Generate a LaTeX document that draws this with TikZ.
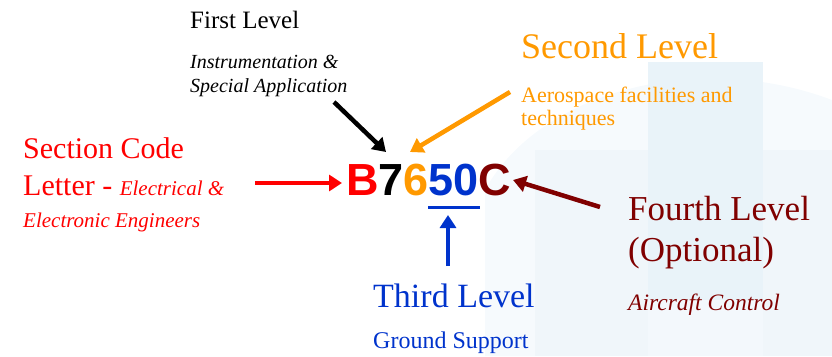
\documentclass[tikz,border=0pt]{standalone}
\usepackage{fontspec}
\newfontfamily\libser{Liberation Serif}
\newfontfamily\codefont{Liberation Sans}
\usetikzlibrary{arrows.meta}
\definecolor{cred}{HTML}{FF0000}
\definecolor{corange}{HTML}{FF9900}
\definecolor{cblue}{HTML}{0033CC}
\definecolor{cdark}{HTML}{800000}
\definecolor{bgc}{HTML}{F6FAFD}
\definecolor{bga}{HTML}{F0F6FA}
\definecolor{bgb}{HTML}{E9F3F9}
\definecolor{bgd}{HTML}{F3F8FC}
\tikzset{
  lbl/.style={inner sep=0pt, anchor=base west},
  arr/.style={line width=4.5pt, -{Triangle[length=13pt,width=16pt]}},
}
\begin{document}
\begin{tikzpicture}[x=1pt,y=-1pt]
\useasboundingbox (0,0) rectangle (832,356);
% faint background
\fill[bgc] (485,356) -- (485,190) .. controls (540,90) and (700,50) .. (832,100) -- (832,356) -- cycle;
\fill[bga] (535,150) rectangle (832,356);
\fill[bgb] (648,62) rectangle (763,356);
\fill[bgd] (648,300) rectangle (763,356);

% First level
\node[lbl, font=\libser\fontsize{25}{25}\selectfont] (first) at (190,28) {First Level};
\node[lbl, font=\libser\itshape\fontsize{20}{20}\selectfont] (firstsubA) at (190,68) {Instrumentation \&};
\node[lbl, font=\libser\itshape\fontsize{20}{20}\selectfont] (firstsubB) at (190,92) {Special Application};

% Second level
\node[lbl, text=corange, font=\libser\fontsize{36}{36}\selectfont] (second) at (521,58) {Second Level};
\node[lbl, text=corange, font=\libser\fontsize{22}{22}\selectfont] (secondsubA) at (521,102) {Aerospace facilities and};
\node[lbl, text=corange, font=\libser\fontsize{22}{22}\selectfont] (secondsubB) at (521,125) {techniques};

% Section code
\node[lbl, text=cred, font=\libser\fontsize{30}{30}\selectfont] (sectA) at (23,158) {Section Code};
\node[lbl, text=cred, font=\libser\fontsize{30}{30}\selectfont] (sectB) at (23,195) {Letter - {\itshape\fontsize{21}{21}\selectfont Electrical \&}};
\node[lbl, text=cred, font=\libser\itshape\fontsize{21}{21}\selectfont] (sectsub) at (23,227) {Electronic Engineers};

% Third level
\node[lbl, text=cblue, font=\libser\fontsize{34}{34}\selectfont] (third) at (373,307) {Third Level};
\node[lbl, text=cblue, font=\libser\fontsize{24}{24}\selectfont] (thirdsub) at (373,348) {Ground Support};

% Fourth level
\node[lbl, text=cdark, font=\libser\fontsize{35}{35}\selectfont] (fourthA) at (628,220) {Fourth Level};
\node[lbl, text=cdark, font=\libser\fontsize{35}{35}\selectfont] (fourthB) at (628,261) {(Optional)};
\node[lbl, text=cdark, font=\libser\itshape\fontsize{23.5}{23.5}\selectfont] (fourthsub) at (628,310) {Aircraft Control};

% code
\node[lbl, font=\codefont\bfseries\fontsize{45}{45}\selectfont] (code) at (346,195) {%
  \textcolor{cred}{B}\textcolor{black}{7}\textcolor{corange}{6}\textcolor{cblue}{50}\textcolor{cdark}{C}};
\coordinate (ul1) at (428,207);
\coordinate (ul2) at (480,207);
\draw[cblue, line width=3pt] (ul1) -- (ul2);

% arrow anchors
\coordinate (a1s) at (255,183); \coordinate (a1e) at (342,183);
\coordinate (a2s) at (334,102); \coordinate (a2e) at (386,152);
\coordinate (a3s) at (510,92);  \coordinate (a3e) at (410,152);
\coordinate (a4s) at (600,207); \coordinate (a4e) at (513,180);
\coordinate (a5s) at (448,266); \coordinate (a5e) at (448,215);

\draw[arr, cred] (a1s) -- (a1e);
\draw[arr, black] (a2s) -- (a2e);
\draw[arr, corange] (a3s) -- (a3e);
\draw[arr, cdark] (a4s) -- (a4e);
\draw[arr, cblue] (a5s) -- (a5e);
\end{tikzpicture}
\end{document}
